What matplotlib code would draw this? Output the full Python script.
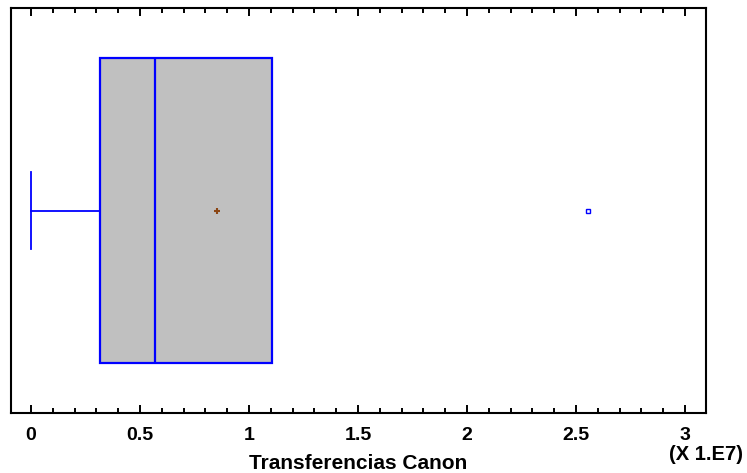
import numpy as np
import matplotlib.pyplot as plt
from matplotlib.ticker import MultipleLocator

# Box plot summary of "Transferencias Canon" (units of 1e7)
q1 = 0.317
median = 0.569
q3 = 1.105
whisker_low = 0.0
whisker_high = 1.105
mean = 0.853
outliers = [2.555]

xticks = [0, 0.5, 1, 1.5, 2, 2.5, 3]
xtick_labels = ['0', '0.5', '1', '1.5', '2', '2.5', '3']

plt.rcParams['font.family'] = ['Liberation Sans', 'DejaVu Sans']

fig = plt.figure(figsize=(7.47, 4.73), dpi=100)
ax = fig.add_axes([0.0147, 0.1268, 0.9304, 0.8562])

stats = [{
    'q1': q1, 'med': median, 'q3': q3,
    'whislo': whisker_low, 'whishi': whisker_high,
    'mean': mean, 'fliers': outliers,
}]
blue = '#0000ff'
ax.bxp(stats, positions=[0.5], widths=0.755, vert=False, patch_artist=True,
       showmeans=True, showcaps=True, capwidths=0.19,
       boxprops=dict(facecolor='#c0c0c0', edgecolor=blue, linewidth=1.6),
       medianprops=dict(color=blue, linewidth=1.6),
       whiskerprops=dict(color=blue, linewidth=1.3),
       capprops=dict(color=blue, linewidth=1.3),
       meanprops=dict(marker='+', markeredgecolor='#8b4513',
                      markersize=4, markeredgewidth=1.5),
       flierprops=dict(marker='s', markerfacecolor='none',
                       markeredgecolor=blue, markersize=3.5,
                       markeredgewidth=1.0))

ax.set_xlim(-0.0917, 3.096)
ax.set_ylim(0, 1)
ax.set_yticks([])
ax.set_xticks(xticks)
ax.set_xticklabels(xtick_labels, fontsize=14, fontweight='bold')
ax.xaxis.set_minor_locator(MultipleLocator(0.1))
ax.tick_params(axis='x', which='major', direction='in', length=6, width=1.4,
               top=True, pad=10)
ax.tick_params(axis='x', which='minor', direction='in', length=3.5, width=1.4,
               top=True)
for s in ax.spines.values():
    s.set_linewidth(1.5)

ax.set_xlabel('Transferencias Canon', fontsize=15, fontweight='bold',
              labelpad=7)
fig.text(0.994, 0.020, '(X 1.E7)', ha='right', va='bottom',
         fontsize=14.5, fontweight='bold')

fig.savefig('out.png', dpi=100)
